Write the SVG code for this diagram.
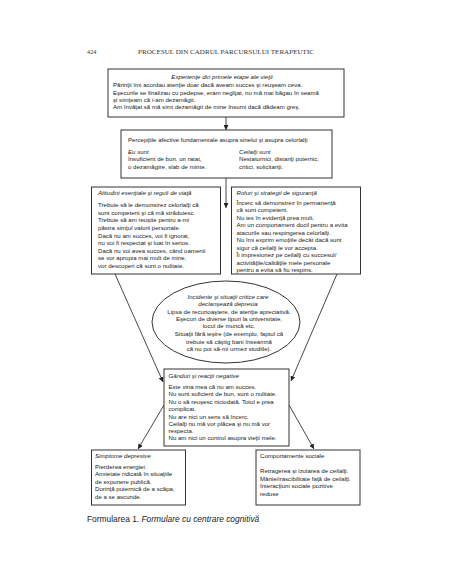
<svg xmlns="http://www.w3.org/2000/svg" width="452" height="584" viewBox="0 0 452 584">
<defs>
<marker id="ah" viewBox="0 0 10 10" refX="10" refY="5" markerWidth="5" markerHeight="5" markerUnits="userSpaceOnUse" orient="auto">
<path d="M0,0 L10,5 L0,10 z" fill="#222"/>
</marker>
<style>
.bx{fill:#fff;stroke:#333;stroke-width:1}
.t{font-family:"Liberation Sans",Arial,sans-serif;font-size:6.1px;fill:#222}
.i{font-style:italic}
.c{text-anchor:middle}
.cn{fill:none;stroke:#333;stroke-width:0.9}
.hd{font-family:"Liberation Serif","Times New Roman",serif;font-size:6.3px;fill:#333}
.cap{font-family:"Liberation Sans",Arial,sans-serif;font-size:8.4px;fill:#222}
</style>
</defs>
<rect width="452" height="584" fill="#fff"/>
<g id="header">
<text class="hd" x="87" y="53.5">424</text>
<text class="hd" x="138" y="53.5" textLength="176" lengthAdjust="spacingAndGlyphs">PROCESUL DIN CADRUL PARCURSULUI TERAPEUTIC</text>
</g>
<g id="connectors">
<line class="cn" x1="226" y1="117" x2="226" y2="130" marker-end="url(#ah)"/>
<line class="cn" x1="226" y1="178" x2="226" y2="208" marker-end="url(#ah)"/>
<line class="cn" x1="115" y1="274" x2="163" y2="382" marker-end="url(#ah)"/>
<line class="cn" x1="337" y1="274" x2="291" y2="381" marker-end="url(#ah)"/>
<line class="cn" x1="164" y1="405" x2="138" y2="449" marker-end="url(#ah)"/>
<line class="cn" x1="289" y1="405" x2="314" y2="449" marker-end="url(#ah)"/>
</g>
<g id="experiente">
<rect class="bx" x="108" y="69" width="236" height="48"/>
<text class="t i c" x="222" y="79">Experienţe din primele etape ale vieţii</text>
<text class="t" x="113" y="87">Părinţii îmi acordau atenţie doar dacă aveam succes şi reuşeam ceva.</text>
<text class="t" x="113" y="94.5">Eşecurile se finalizau cu pedepse, eram neglijat, nu mă mai băgau în seamă</text>
<text class="t" x="113" y="101.5">şi simţeam că i-am dezamăgit.</text>
<text class="t" x="113" y="109">Am învăţat să mă simt dezamăgit de mine însumi dacă dădeam greş.</text>
</g>
<g id="perceptii">
<rect class="bx" x="121" y="130" width="211" height="48"/>
<text class="t" x="128" y="142">Percepţiile afective fundamentale asupra sinelui şi asupra celorlalţi</text>
<text class="t i" x="128" y="154">Eu sunt</text>
<text class="t" x="128" y="161">Insuficient de bun, un ratat,</text>
<text class="t" x="128" y="169">o dezamăgire, slab de minte.</text>
<text class="t i" x="239" y="154">Ceilalţi sunt</text>
<text class="t" x="239" y="161">Nestatornici, distanţi puternic,</text>
<text class="t" x="239" y="169">critici, solicitanţi.</text>
</g>
<g id="atitudini">
<rect class="bx" x="91.5" y="187" width="129" height="87"/>
<text class="t i" x="98" y="195">Atitudini esenţiale şi reguli de viaţă</text>
<text class="t" x="98" y="206.5">Trebuie să le demonstrez celorlalţi că</text>
<text class="t" x="98" y="214.5">sunt competent şi că mă străduiesc.</text>
<text class="t" x="98" y="222">Trebuie să am reuşite pentru a-mi</text>
<text class="t" x="98" y="230">păstra simţul valorii personale.</text>
<text class="t" x="98" y="237.5">Dacă nu am succes, voi fi ignorat,</text>
<text class="t" x="98" y="245">nu voi fi respectat şi luat în serios.</text>
<text class="t" x="98" y="252.5">Dacă nu voi avea succes, când oamenii</text>
<text class="t" x="98" y="260">se vor apropia mai mult de mine,</text>
<text class="t" x="98" y="267.5">vor descoperi că sunt o nulitate.</text>
</g>
<g id="roluri">
<rect class="bx" x="231.5" y="187" width="129" height="87"/>
<text class="t i" x="236.5" y="195">Roluri şi strategii de siguranţă</text>
<text class="t" x="236.5" y="204.5">Încerc să demonstrez în permanenţă</text>
<text class="t" x="236.5" y="212">că sunt competent.</text>
<text class="t" x="236.5" y="219.5">Nu ies în evidenţă prea mult.</text>
<text class="t" x="236.5" y="227">Am un comportament docil pentru a evita</text>
<text class="t" x="236.5" y="234.5">atacurile sau respingerea celorlalţi.</text>
<text class="t" x="236.5" y="242">Nu îmi exprim emoţiile decât dacă sunt</text>
<text class="t" x="236.5" y="249.5">sigur că ceilalţi le vor accepta.</text>
<text class="t" x="236.5" y="257">Îi impresionez pe ceilalţi cu succesul/</text>
<text class="t" x="236.5" y="264.5">activităţile/calităţile mele personale</text>
<text class="t" x="236.5" y="272">pentru a evita să fiu respins.</text>
</g>
<g id="incidente">
<ellipse class="bx" cx="226" cy="322" rx="74" ry="41"/>
<text class="t i c" x="228" y="299">Incidente şi situaţii critice care</text>
<text class="t i c" x="228" y="306">declanşează depresia</text>
<text class="t c" x="229" y="313.5">Lipsa de recunoaştere, de atenţie apreciativă.</text>
<text class="t c" x="229" y="321">Eşecuri de diverse tipuri la universitate,</text>
<text class="t c" x="229" y="328">locul de muncă etc.</text>
<text class="t c" x="229" y="336">Situaţii fără ieşire (de exemplu, faptul că</text>
<text class="t c" x="229" y="343.5">trebuie să câştig bani înseamnă</text>
<text class="t c" x="229" y="350.5">că nu pot să-mi urmez studiile).</text>
</g>
<g id="ganduri">
<rect class="bx" x="164" y="369" width="125" height="77"/>
<text class="t i" x="168.5" y="377.5">Gânduri şi reacţii negative</text>
<text class="t" x="168.5" y="388.5">Este vina mea că nu am succes.</text>
<text class="t" x="168.5" y="396">Nu sunt suficient de bun, sunt o nulitate.</text>
<text class="t" x="168.5" y="403.5">Nu o să reuşesc niciodată. Totul e prea</text>
<text class="t" x="168.5" y="411">complicat.</text>
<text class="t" x="168.5" y="418.5">Nu are nici un sens să încerc.</text>
<text class="t" x="168.5" y="425.5">Ceilalţi nu mă vor plăcea şi nu mă vor</text>
<text class="t" x="168.5" y="432.5">respecta.</text>
<text class="t" x="168.5" y="440">Nu am nici un control asupra vieţii mele.</text>
</g>
<g id="simptome">
<rect class="bx" x="91.5" y="450" width="94" height="55"/>
<text class="t i" x="95" y="458">Simptome depresive</text>
<text class="t" x="95" y="468.5">Pierderea energiei.</text>
<text class="t" x="95" y="476">Anxietate ridicată în situaţiile</text>
<text class="t" x="95" y="483.5">de expunere publică.</text>
<text class="t" x="95" y="491">Dorinţă puternică de a scăpa,</text>
<text class="t" x="95" y="498.5">de a se ascunde.</text>
</g>
<g id="comportamente">
<rect class="bx" x="256" y="450" width="104" height="55"/>
<text class="t" x="260" y="458">Comportamente sociale</text>
<text class="t" x="260" y="473">Retragerea şi izolarea de ceilalţi.</text>
<text class="t" x="260" y="480.5">Mânie/irascibilitate faţă de ceilalţi.</text>
<text class="t" x="260" y="488">Interacţiuni sociale pozitive</text>
<text class="t" x="260" y="495.5">reduse</text>
</g>
<g id="caption">
<text class="cap" x="87" y="521.5">Formularea 1. <tspan font-style="italic">Formulare cu centrare cognitivă</tspan></text>
</g>
</svg>
